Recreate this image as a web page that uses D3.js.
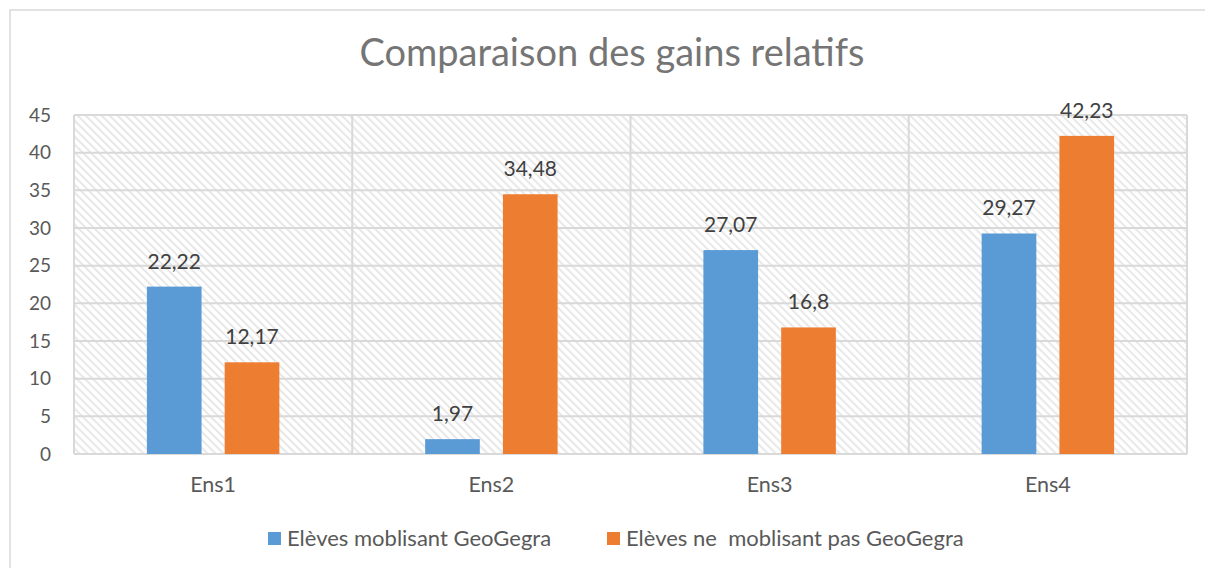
<!DOCTYPE html>
<html>
<head>
<meta charset="utf-8">
<script src="https://cdn.jsdelivr.net/npm/d3@7/dist/d3.min.js"></script>
<style>
  html, body { margin: 0; padding: 0; background: #ffffff; }
  svg { display: block; font-family: Lato, "Open Sans", sans-serif; }
</style>
</head>
<body>
<svg id="chart" width="1205" height="568"></svg>
<script>
// Chart data
const categories = ["Ens1", "Ens2", "Ens3", "Ens4"];
const seriesNames = ["Elèves moblisant GeoGegra", "Elèves ne  moblisant pas GeoGegra"];
const seriesWith = [22.22, 1.97, 27.07, 29.27];
const seriesWithout = [12.17, 34.48, 16.8, 42.23];
const labelsWith = ["22,22", "1,97", "27,07", "29,27"];
const labelsWithout = ["12,17", "34,48", "16,8", "42,23"];
const yTicks = [0, 5, 10, 15, 20, 25, 30, 35, 40, 45];
const colors = ["#5B9BD5", "#ED7D31"];

const svg = d3.select("#chart");

// Outer chart frame
svg.append("rect")
  .attr("x", 10).attr("y", 10)
  .attr("width", 1210).attr("height", 580)
  .attr("fill", "#ffffff")
  .attr("stroke", "#d9d9d9").attr("stroke-width", 1.5);

// Plot area
const plot = { left: 74, right: 1187, top: 115, bottom: 454 };

const x = d3.scaleBand().domain(categories).range([plot.left, plot.right]).padding(0);
const y = d3.scaleLinear().domain([0, 45]).range([plot.bottom, plot.top]);
const bw = x.bandwidth();
const xs = d3.scaleBand().domain([0, 1])
  .range([bw * 0.262, bw * 0.738]).paddingInner(0.297).paddingOuter(0);

// Diagonal hatch fill for the plot background
const defs = svg.append("defs");
const pat = defs.append("pattern")
  .attr("id", "hatch")
  .attr("patternUnits", "userSpaceOnUse")
  .attr("width", 5.66).attr("height", 10)
  .attr("patternTransform", "rotate(-45)");
pat.append("rect").attr("width", 5.66).attr("height", 10).attr("fill", "#ffffff");
pat.append("line")
  .attr("x1", 1.5).attr("y1", 0).attr("x2", 1.5).attr("y2", 10)
  .attr("stroke", "#e2e2e2").attr("stroke-width", 1.6);

svg.append("rect")
  .attr("x", plot.left).attr("y", plot.top)
  .attr("width", plot.right - plot.left).attr("height", plot.bottom - plot.top)
  .attr("fill", "url(#hatch)");

// Horizontal gridlines
svg.append("g")
  .selectAll("line").data(yTicks).join("line")
  .attr("x1", plot.left).attr("x2", plot.right)
  .attr("y1", d => y(d)).attr("y2", d => y(d))
  .attr("stroke", "#d9d9d9").attr("stroke-width", 2);

// Vertical category separators and plot border
const seps = categories.map(c => x(c)).concat([plot.right]);
svg.append("g")
  .selectAll("line").data(seps).join("line")
  .attr("x1", d => d).attr("x2", d => d)
  .attr("y1", plot.top).attr("y2", plot.bottom)
  .attr("stroke", "#d9d9d9").attr("stroke-width", 2);

// Y axis labels
const yAxis = d3.axisLeft(y).tickValues(yTicks).tickSize(0).tickPadding(23);
const gy = svg.append("g").attr("transform", `translate(${plot.left},0)`).call(yAxis);
gy.select(".domain").remove();
gy.selectAll("text")
  .attr("fill", "#595959")
  .style("font-size", "19px")
  .style("font-family", "Lato, 'Open Sans', sans-serif");

// X axis labels
const xAxis = d3.axisBottom(x).tickSize(0).tickPadding(0);
const gx = svg.append("g").attr("transform", `translate(0,${plot.bottom})`).call(xAxis);
gx.select(".domain").remove();
gx.selectAll("text")
  .attr("dy", null).attr("y", 38)
  .attr("fill", "#595959")
  .style("font-size", "21.5px")
  .style("font-family", "Lato, 'Open Sans', sans-serif");

// Bars
const rows = categories.map((c, i) => ({
  cat: c,
  vals: [seriesWith[i], seriesWithout[i]],
  labs: [labelsWith[i], labelsWithout[i]]
}));

const groups = svg.append("g").selectAll("g").data(rows).join("g")
  .attr("transform", d => `translate(${x(d.cat)},0)`);

groups.selectAll("rect")
  .data(d => d.vals.map((v, k) => ({ v, k })))
  .join("rect")
  .attr("x", d => xs(d.k))
  .attr("width", xs.bandwidth())
  .attr("y", d => y(d.v))
  .attr("height", d => y(0) - y(d.v))
  .attr("fill", d => colors[d.k]);

// Value labels
groups.selectAll("text.val")
  .data(d => d.vals.map((v, k) => ({ v, k, lab: d.labs[k] })))
  .join("text")
  .attr("class", "val")
  .attr("x", d => xs(d.k) + xs.bandwidth() / 2)
  .attr("y", d => y(d.v) - 18)
  .attr("text-anchor", "middle")
  .attr("fill", "#404040")
  .style("font-size", "21px")
  .text(d => d.lab);

// Title
svg.append("text")
  .attr("x", 612).attr("y", 66)
  .attr("text-anchor", "middle")
  .attr("fill", "#757575")
  .style("font-size", "38px")
  .text("Comparaison des gains relatifs");

// Legend
const legendX = [268, 607];
const lg = svg.append("g").selectAll("g").data(seriesNames).join("g")
  .attr("transform", (d, i) => `translate(${legendX[i]},532)`);
lg.append("rect").attr("width", 13).attr("height", 13)
  .attr("fill", (d, i) => colors[i]);
lg.append("text")
  .attr("x", 19).attr("y", 14)
  .attr("fill", "#595959")
  .style("font-size", "22px")
  .style("white-space", "pre")
  .attr("xml:space", "preserve")
  .text(d => d);
</script>
</body>
</html>
